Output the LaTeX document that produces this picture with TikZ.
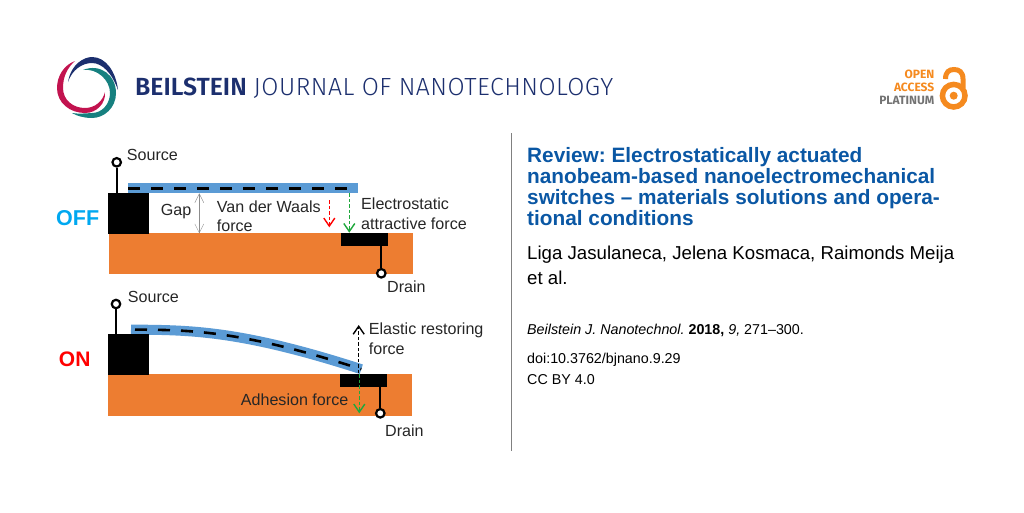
\documentclass[tikz,border=0pt]{standalone}
\usepackage{fontspec}
\setmainfont{Liberation Sans}
\newfontfamily\logofont{Fira Sans}[UprightFont=* Light,BoldFont=* SemiBold]
\newfontfamily\oafont{Fira Sans}
\usetikzlibrary{arrows.meta,positioning}
\definecolor{navylogo}{HTML}{1C2F6E}
\definecolor{magentalogo}{HTML}{C2134F}
\definecolor{teallogo}{HTML}{16807F}
\definecolor{titleblue}{HTML}{0A57A4}
\definecolor{oaorange}{HTML}{F58A1F}
\definecolor{offblue}{HTML}{00A8F0}
\definecolor{beamblue}{HTML}{5B9BD5}
\definecolor{baseorange}{HTML}{ED7D31}
\definecolor{forcegreen}{HTML}{1FA83C}
\newcommand{\px}[1]{\fontsize{#1}{#1}\selectfont}
\frenchspacing
\tikzset{
	label/.style={anchor=west,inner sep=0pt,text=black!85,font=\px{16.1}},
	info/.style={anchor=base west,inner sep=0pt,font=\px{14.3}},
	titleline/.style={anchor=base west,inner sep=0pt,text=titleblue,font=\px{20.8}\bfseries},
	oatext/.style={anchor=east,inner sep=0pt,text=oaorange,font=\oafont\bfseries\px{12}},
	terminal/.style={circle,draw,line width=2.2pt,fill=white,inner sep=0pt,minimum size=8.5pt},
	wire/.style={line width=2.2pt},
	block/.style={draw=black,fill=black,inner sep=0pt},
	dashes/.style={line width=2.6pt,dash pattern=on 12pt off 11pt},
	force/.style={->,>={Straight Barb[length=8pt,width=11pt]},line width=1.4pt,dash pattern=on 3.5pt off 2pt},
}
\begin{document}
\begin{tikzpicture}[x=1pt,y=-1pt]
	\useasboundingbox (0,0) rectangle (1024,512);
	% logo
	\fill[navylogo] (68,82) .. controls (71,64) and (84,57) .. (92,57) .. controls (106,57) and (116,72) .. (118,90) .. controls (112,73) and (102,63) .. (92,63) .. controls (82,63) and (72,70) .. (68,82) -- cycle;
	\fill[magentalogo] (75,61) .. controls (64,65) and (57,76) .. (57,88) .. controls (57,103) and (70,113) .. (85,113) .. controls (97,113) and (106,103) .. (105,92) .. controls (103,101) and (95,108) .. (85,108) .. controls (73,108) and (63,100) .. (63,88) .. controls (63,77) and (67,68) .. (75,61) -- cycle;
	\fill[teallogo] (83,70) .. controls (100,63) and (116,75) .. (116,93) .. controls (116,108) and (104,118) .. (92,118) .. controls (84,118) and (77,116) .. (72,113) .. controls (78,114) and (85,113.5) .. (92,113) .. controls (102,113) and (110,104) .. (110,93) .. controls (110,80) and (97,68) .. (83,70) -- cycle;
	\node[anchor=west,inner sep=0pt,text=navylogo,font=\logofont\px{24.8}] (journal) at (135,88) {\textbf{BEILSTEIN} \addfontfeature{LetterSpace=2}JOURNAL OF NANOTECHNOLOGY};
	% open access
	\node[oatext] (open) at (934.5,74.5) {OPEN};
	\node[oatext] (access) at (934.5,87.5) {ACCESS};
	\node[oatext,text=black!55] (platinum) at (934.5,100.8) {PLATINUM};
	\draw[oaorange,line width=5.5pt] (953.7,95.7) circle (11.3);
	\fill[oaorange] (953.7,95.7) circle (4);
	\draw[oaorange,line width=5pt] (945.5,79) .. controls (945.5,72) and (949,69.5) .. (954,69.5) .. controls (959,69.5) and (963,72) .. (963,79) -- (963,88);
	% OFF state
	\fill[baseorange] (109,233.3) rectangle (413.3,274.3);
	\fill[beamblue] (127.7,183.3) rectangle (358.3,192.7);
	\draw[dashes] (128.3,188.3) -- (348,188.3);
	\node[block,anchor=north west,minimum width=40pt,minimum height=40.6pt] (anchoroff) at (108.3,192.7) {};
	\node[block,anchor=north west,minimum width=46pt,minimum height=11.7pt] (padoff) at (340.7,233.3) {};
	\node[terminal] (sourceoff) at (116.7,162.3) {};
	\node[terminal] (drainoff) at (381.3,273.3) {};
	\draw[wire] (sourceoff) -- (sourceoff |- anchoroff.north);
	\draw[wire] (drainoff) -- (drainoff |- padoff.south);
	\node[label] (sourcetxtoff) at (126.7,155) {Source};
	\node[label] (draintxtoff) at (387,287) {Drain};
	\node[label] (gaptxt) at (160.7,211.7) {Gap};
	\node[label] (vdwtxt) at (216.7,206.7) {Van der Waals};
	\node[label] (vdwtxtb) at (216.7,226) {force};
	\node[label] (esttxt) at (361,203.3) {Electrostatic};
	\node[label] (esttxtb) at (361,223.3) {attractive force};
	\node[anchor=center,inner sep=0pt,text=offblue,font=\bfseries\px{21.5}] (offtxt) at (77.7,218.3) {OFF};
	\coordinate (gaptop) at (199.3,193.3);
	\coordinate (gapbot) at (199.3,233.3);
	\draw[<->,>={Straight Barb[length=9pt,width=9pt]},black!45,thin] (gaptop) -- (gapbot);
	\coordinate (vdwtop) at (329.3,200);
	\coordinate (vdwbot) at (329.3,227.3);
	\draw[force,red] (vdwtop) -- (vdwbot);
	\coordinate (esttop) at (349.3,193.3);
	\coordinate (estbot) at (349.3,232.7);
	\draw[force,forcegreen] (esttop) -- (estbot);
	% ON state
	\fill[baseorange] (108.3,374.3) rectangle (412.3,416);
	\coordinate (beamstart) at (131,329.6);
	\coordinate (beamend) at (361.3,369.2);
	\draw[beamblue,line width=10pt] (beamstart) .. controls (190,330) and (240,330) .. (beamend);
	\draw[dashes] (135,329.6) .. controls (190,330) and (240,330) .. (beamend);
	\node[block,anchor=north west,minimum width=39.7pt,minimum height=40pt] (anchoron) at (108,334.3) {};
	\node[block,anchor=north west,minimum width=45.7pt,minimum height=11.7pt] (padon) at (340,374.3) {};
	\node[terminal] (sourceon) at (116,304) {};
	\node[terminal] (drainon) at (380.3,413.3) {};
	\draw[wire] (sourceon) -- (sourceon |- anchoron.north);
	\draw[wire] (drainon) -- (drainon |- padon.south);
	\node[label] (sourcetxton) at (127.7,296.7) {Source};
	\node[label] (draintxton) at (385,430.7) {Drain};
	\node[label] (elastxt) at (368.7,330) {Elastic restoring};
	\node[label] (elastxtb) at (368.7,349) {force};
	\node[label] (adhtxt) at (240.7,400) {Adhesion force};
	\node[anchor=center,inner sep=0pt,text=red,font=\bfseries\px{21}] (ontxt) at (74.7,359) {ON};
	\coordinate (elasbot) at (358.7,373);
	\coordinate (elastop) at (358.7,325);
	\draw[force,black] (elasbot) -- (elastop);
	\coordinate (adhtop) at (359.3,374);
	\coordinate (adhbot) at (359.3,413.3);
	\draw[force,forcegreen] (adhtop) -- (adhbot);
	% divider
	\coordinate (divtop) at (511.5,133);
	\coordinate (divbot) at (511.5,451);
	\draw[black!50,line width=1pt] (divtop) -- (divbot);
	% article text
	\foreach \t [count=\n] in {Review: Electrostatically actuated,nanobeam-based nanoelectromechanical,switches -- materials solutions and opera-,tional conditions}
		\node[titleline] (title\n) at (527,141+\n*20.9+0.6) {\t};
	\node[info,font=\px{18.65}] (authors) at (527,259) {Liga Jasulaneca, Jelena Kosmaca, Raimonds Meija};
	\node[info,font=\px{18.65}] (etal) at (527,284) {et al.};
	\node[info] (citation) at (527,334) {\textit{Beilstein J. Nanotechnol.} \textbf{2018,} \textit{9,} 271--300.};
	\node[info] (doi) at (527,363) {doi:10.3762/bjnano.9.29};
	\node[info] (licence) at (527,384) {CC BY 4.0};
\end{tikzpicture}
\end{document}
